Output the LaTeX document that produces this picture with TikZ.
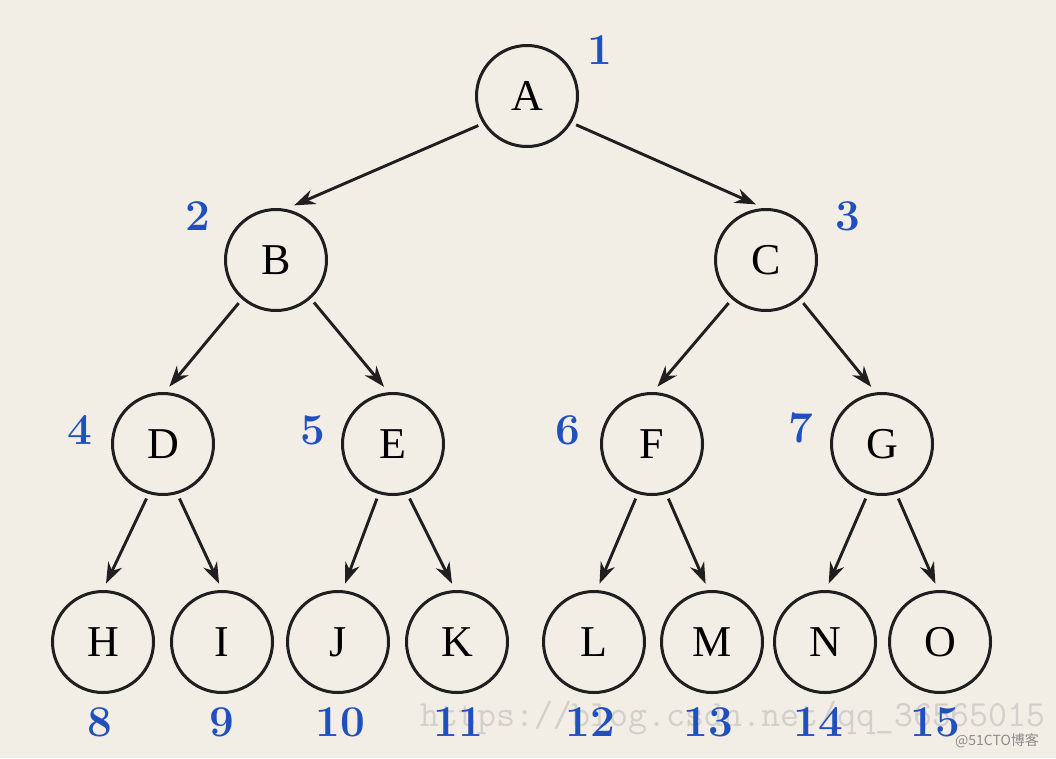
\documentclass[tikz,border=0pt]{standalone}
\usepackage{fontspec}
\newfontfamily\cjk{Noto Sans CJK SC}
\newfontfamily\letterfont{Liberation Serif}
\usetikzlibrary{arrows.meta}
\definecolor{bg}{RGB}{242,237,229}
\definecolor{numblue}{RGB}{32,80,190}
\definecolor{wm}{RGB}{210,208,204}
\begin{document}
\begin{tikzpicture}[x=1pt,y=-1pt,
  vert/.style={circle,draw=black!88,line width=3pt,minimum size=101pt,inner sep=0pt,
    font=\fontsize{44}{44}\letterfont},
  num/.style={text=numblue,inner sep=0pt,font=\fontsize{44}{44}\selectfont\bfseries},
  arr/.style={line width=2.9pt,draw=black!88,-{Stealth[length=21pt,width=15pt]},
    shorten <=5pt,shorten >=7pt},
  wmark/.style={text=wm,inner sep=0pt},
]
\fill[bg] (0,0) rectangle (1056,758);
\useasboundingbox (0,0) rectangle (1056,758);

% watermark
\node[wmark,font=\fontsize{36.8}{36.8}\ttfamily] (wm1) at (733,718) {https://blog.csdn.net/qq\_36565015};
\node[wmark,text=black!45,font=\fontsize{14}{14}\cjk] (wm2) at (997,741) {@51CTO博客};

% vertices
\node[vert] (A) at (527,96) {A};
\node[vert] (B) at (276,260) {B};
\node[vert] (C) at (766,260) {C};
\node[vert] (D) at (163,444) {D};
\node[vert] (E) at (393,444) {E};
\node[vert] (F) at (652,444) {F};
\node[vert] (G) at (882,444) {G};
\node[vert] (H) at (103,642) {H};
\node[vert] (I) at (222,642) {I};
\node[vert] (J) at (338,642) {J};
\node[vert] (K) at (457,642) {K};
\node[vert] (L) at (594,642) {L};
\node[vert] (M) at (712,642) {M};
\node[vert] (N) at (825,642) {N};
\node[vert] (O) at (940,642) {O};

% edges
\draw[arr,shorten >=9pt] (A.212) -- (B.79);
\draw[arr,shorten >=9pt] (A.329) -- (C.92);
\draw[arr] (B.229) -- (D.88);
\draw[arr] (B.312) -- (E.95);
\draw[arr] (C.229) -- (F.89);
\draw[arr] (C.311) -- (G.97);
\draw[arr] (D.254) -- (H.90);
\draw[arr] (D.286) -- (I.90);
\draw[arr] (E.254) -- (J.85);
\draw[arr] (E.286) -- (K.92);
\draw[arr] (F.254) -- (L.87);
\draw[arr] (F.286) -- (M.94);
\draw[arr] (G.254) -- (N.89);
\draw[arr] (G.286) -- (O.92);

% numbers
\node[num] (n1) at (600,50) {1};
\node[num] (n2) at (198,216) {2};
\node[num] (n3) at (848,216) {3};
\node[num] (n4) at (80,430) {4};
\node[num] (n5) at (313,430) {5};
\node[num] (n6) at (568,430) {6};
\node[num] (n7) at (801,428) {7};
\node[num] (n8) at (100,722) {8};
\node[num] (n9) at (222,722) {9};
\node[num] (n10) at (340,722) {10};
\node[num] (n11) at (458,722) {11};
\node[num] (n12) at (590,722) {12};
\node[num] (n13) at (708,722) {13};
\node[num] (n14) at (818,722) {14};
\node[num] (n15) at (935,722) {15};
\end{tikzpicture}
\end{document}
